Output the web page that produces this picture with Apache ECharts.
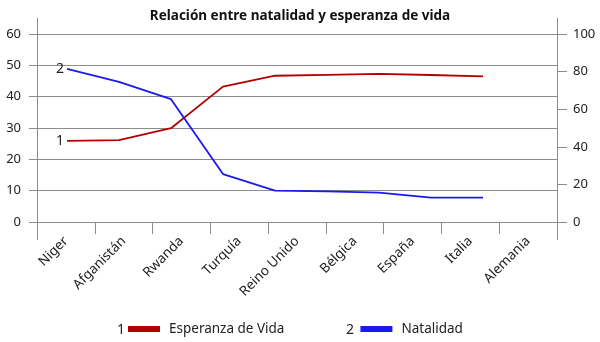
<!DOCTYPE html>
<html><head><meta charset="utf-8">
<script src="https://cdn.jsdelivr.net/npm/echarts@6/dist/echarts.min.js"></script>
<style>html,body{margin:0;padding:0;background:#fff}#c{width:600px;height:342px}</style>
</head><body><div id="c"></div>
<script>
const categories = ['Niger','Afganistán','Rwanda','Turquía','Reino Unido','Bélgica','España','Italia','Alemania'];
const natalidad = [48.9, 44.7, 39.2, 15.3, 10.0, 9.8, 9.4, 7.8, 7.8];
const esperanza = [43.2, 43.5, 49.9, 72.0, 77.8, 78.3, 78.8, 78.2, 77.5];
const seriesNames = ['Esperanza de Vida', 'Natalidad'];
const seriesNums = ['1', '2'];
const leftTicks = {min: 0, max: 60, interval: 10};
const rightTicks = {min: 0, max: 100, interval: 20};

const FONT = 'Noto Sans';
const GRID = '#8c8c8c';
const RED = '#b00000';
const BLUE = '#1a1aee';
const chart = echarts.init(document.getElementById('c'), null, {renderer: 'canvas'});

function withLabel(arr, txt) {
  return arr.map((v, i) => i === 0 ? {value: v, label: {show: true, formatter: txt, position: 'left', distance: 3, fontFamily: FONT, fontSize: 14, color: '#222'}} : v);
}
const gl = {color: GRID, width: 1};
chart.setOption({
  animation: false,
  title: {text: 'Relación entre natalidad y esperanza de vida', left: 'center', top: 4,
    textStyle: {fontFamily: FONT, fontSize: 13.5, fontWeight: 'bold', color: '#111'}},
  grid: [
    {left: 37, right: 43, top: 34, bottom: 120},
    {left: 67, right: 117, top: 34, bottom: 120}
  ],
  xAxis: [
    {type: 'category', gridIndex: 0, data: categories, boundaryGap: true,
      axisLine: {show: true, lineStyle: gl},
      axisTick: {show: true, length: 12, lineStyle: gl},
      axisLabel: {rotate: 45, margin: 17, interval: 0, fontFamily: FONT, fontSize: 13.5, color: '#222'}},
    {type: 'category', gridIndex: 1, data: categories, boundaryGap: false, show: false}
  ],
  yAxis: [
    {type: 'value', gridIndex: 0, position: 'left', min: leftTicks.min, max: leftTicks.max, interval: leftTicks.interval,
      axisLine: {show: true, lineStyle: gl}, axisTick: {show: true, length: 8, lineStyle: gl},
      splitLine: {show: true, lineStyle: gl},
      axisLabel: {margin: 16, fontFamily: FONT, fontSize: 13, color: '#222'}},
    {type: 'value', gridIndex: 0, position: 'right', min: rightTicks.min, max: rightTicks.max, interval: rightTicks.interval,
      axisLine: {show: true, lineStyle: gl}, axisTick: {show: true, length: 10, lineStyle: gl},
      splitLine: {show: false},
      axisLabel: {margin: 16, fontFamily: FONT, fontSize: 13, color: '#222'}},
    {type: 'value', gridIndex: 1, min: leftTicks.min, max: leftTicks.max, show: false},
    {type: 'value', gridIndex: 1, min: rightTicks.min, max: rightTicks.max, show: false}
  ],
  legend: {
    data: seriesNames, left: 128, top: 322, padding: 0, icon: 'rect', itemWidth: 32, itemHeight: 6, itemGap: 76,
    textStyle: {fontFamily: FONT, fontSize: 13.5, color: '#222', padding: [0, 0, 0, 4]}
  },
  graphic: [
    {type: 'text', left: 117, top: 323, style: {text: seriesNums[0], fontFamily: FONT, fontSize: 14, fill: '#222'}},
    {type: 'text', left: 346, top: 323, style: {text: seriesNums[1], fontFamily: FONT, fontSize: 14, fill: '#222'}},
    {type: 'line', shape: {x1: 37.5, y1: 18, x2: 37.5, y2: 34}, style: {stroke: GRID, lineWidth: 1}},
    {type: 'line', shape: {x1: 37.5, y1: 222, x2: 37.5, y2: 240}, style: {stroke: GRID, lineWidth: 1}},
    {type: 'line', shape: {x1: 557.5, y1: 18, x2: 557.5, y2: 34}, style: {stroke: GRID, lineWidth: 1}},
    {type: 'line', shape: {x1: 557.5, y1: 222, x2: 557.5, y2: 240}, style: {stroke: GRID, lineWidth: 1}}
  ],
  series: [
    {name: seriesNames[0], type: 'line', xAxisIndex: 1, yAxisIndex: 3, data: withLabel(esperanza, seriesNums[0]),
      showSymbol: true, symbol: 'circle', symbolSize: 0.1, lineStyle: {color: RED, width: 1.8}, itemStyle: {color: RED}},
    {name: seriesNames[1], type: 'line', xAxisIndex: 1, yAxisIndex: 2, data: withLabel(natalidad, seriesNums[1]),
      showSymbol: true, symbol: 'circle', symbolSize: 0.1, lineStyle: {color: BLUE, width: 1.8}, itemStyle: {color: BLUE}}
  ]
});
</script></body></html>
